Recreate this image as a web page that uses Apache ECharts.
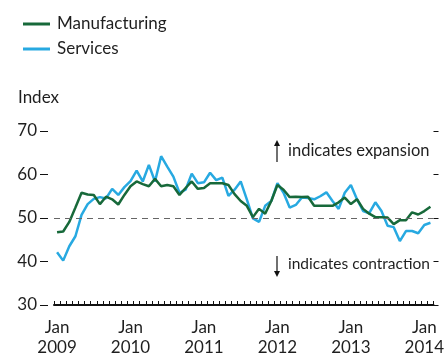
<!DOCTYPE html>
<html>
<head>
<meta charset="utf-8">
<script src="https://cdn.jsdelivr.net/npm/echarts@6/dist/echarts.min.js"></script>
<style>
html,body{margin:0;padding:0;background:#fff;}
#chart{width:447px;height:358px;}
</style>
</head>
<body>
<div id="chart"></div>
<script>
// Monthly categories Jan 2009 – Feb 2014
const years = [2009, 2010, 2011, 2012, 2013, 2014];
const months = [];
years.forEach(y => { for (let m = 1; m <= 12; m++) { if (y === 2014 && m > 2) break; months.push(y + '-' + (m < 10 ? '0' + m : m)); } });

const manufacturing = [
  46.7, 46.9, 49.1, 52.4, 55.8, 55.4, 55.3, 53.2, 54.9, 54.3, 53.1, 55.3,
  57.3, 58.4, 57.8, 57.3, 59.0, 57.3, 57.6, 57.3, 55.3, 56.9, 58.4, 56.7,
  56.9, 58.0, 58.0, 58.0, 57.6, 55.5, 53.9, 52.8, 50.2, 52.1, 51.0, 53.9,
  57.6, 56.5, 54.8, 54.9, 54.8, 54.9, 52.8, 52.8, 52.8, 52.8, 53.6, 54.7,
  53.2, 54.3, 52.1, 51.0, 50.2, 50.2, 50.1, 48.6, 49.5, 49.5, 51.3, 50.8,
  51.6, 52.6
];
const services = [
  42.1, 40.2, 43.5, 45.8, 50.7, 53.2, 54.4, 54.8, 54.5, 56.7, 55.3, 57.1,
  58.5, 60.9, 58.4, 62.2, 58.4, 64.2, 61.8, 59.5, 55.8, 56.5, 60.2, 58.0,
  58.2, 60.4, 58.7, 59.3, 55.1, 56.5, 58.4, 54.3, 49.9, 49.1, 52.8, 53.9,
  58.0, 55.8, 52.4, 53.0, 54.7, 54.6, 54.3, 55.0, 55.9, 53.9, 52.1, 55.8,
  57.6, 54.3, 51.6, 51.1, 53.6, 51.6, 48.2, 47.9, 44.7, 47.0, 47.0, 46.5,
  48.4, 48.9
];
const yTicks = [30, 40, 50, 60, 70];

const FONT = 'Lato';
const TXT = '#1f1f1f';
const GREEN = '#17693a';
const BLUE = '#27a9e1';

const chart = echarts.init(document.getElementById('chart'), null, {renderer: 'canvas'});
chart.setOption({
  animation: false,
  textStyle: {fontFamily: FONT, color: TXT},
  title: {
    text: 'Index', left: 13, top: 84,
    textStyle: {fontFamily: FONT, fontSize: 17, fontWeight: 'normal', color: TXT}
  },
  legend: {
    orient: 'vertical', left: 18, top: 9, itemGap: 5,
    itemWidth: 27, itemHeight: 3, icon: 'rect',
    textStyle: {fontFamily: FONT, fontSize: 17, color: TXT, lineHeight: 20, padding: [0, 0, 0, 2]},
    data: ['Manufacturing', 'Services']
  },
  grid: {left: 54, right: 7.4, top: 131, bottom: 47, containLabel: false},
  xAxis: {
    type: 'category', data: months, boundaryGap: true,
    axisLine: {lineStyle: {color: '#111', width: 2}},
    axisTick: {show: true, inside: true, length: 4, interval: 0, lineStyle: {color: '#111', width: 1}},
    axisLabel: {
      interval: (i) => i % 12 === 0,
      formatter: (v) => 'Jan\n' + v.slice(0, 4),
      fontFamily: FONT, fontSize: 17, color: TXT, lineHeight: 20, margin: 13
    },
    splitLine: {show: false}
  },
  yAxis: [{
    type: 'value', min: yTicks[0], max: yTicks[yTicks.length - 1], interval: 10,
    position: 'left', offset: 6,
    axisLine: {show: false},
    axisTick: {show: true, length: 8, lineStyle: {color: '#111', width: 1}},
    axisLabel: {fontFamily: FONT, fontSize: 17, color: TXT, margin: 11, padding: [0, 0, 11, 0]},
    splitLine: {show: false}
  }, {
    type: 'value', min: yTicks[0], max: yTicks[yTicks.length - 1], interval: 10,
    position: 'right',
    axisLine: {show: false},
    axisTick: {show: true, length: 5, lineStyle: {color: '#111', width: 1}},
    axisLabel: {show: false},
    splitLine: {show: false}
  }],
  series: [{
    name: 'Services', type: 'line', data: services, symbol: 'none',
    lineStyle: {color: BLUE, width: 2.5}, itemStyle: {color: BLUE}, z: 2,
    markLine: {
      silent: true, symbol: 'none', label: {show: false},
      lineStyle: {color: '#666', type: [6, 5], width: 1},
      data: [{yAxis: 50}]
    }
  }, {
    name: 'Manufacturing', type: 'line', data: manufacturing, symbol: 'none',
    lineStyle: {color: GREEN, width: 2.5}, itemStyle: {color: GREEN}, z: 3
  }],
  graphic: [
    {type: 'line', shape: {x1: 277, y1: 143, x2: 277, y2: 162}, style: {stroke: '#111', lineWidth: 1.2}},
    {type: 'polygon', shape: {points: [[274, 146], [277, 140], [280, 146]]}, style: {fill: '#111'}},
    {type: 'text', left: 288, top: 142, style: {text: 'indicates expansion', font: '16.5px Lato', fill: TXT}},
    {type: 'line', shape: {x1: 277, y1: 256, x2: 277, y2: 274}, style: {stroke: '#111', lineWidth: 1.2}},
    {type: 'polygon', shape: {points: [[274, 271], [277, 277], [280, 271]]}, style: {fill: '#111'}},
    {type: 'text', left: 288, top: 256, style: {text: 'indicates contraction', font: '15.5px Lato', fill: TXT}}
  ]
});
</script>
</body>
</html>
